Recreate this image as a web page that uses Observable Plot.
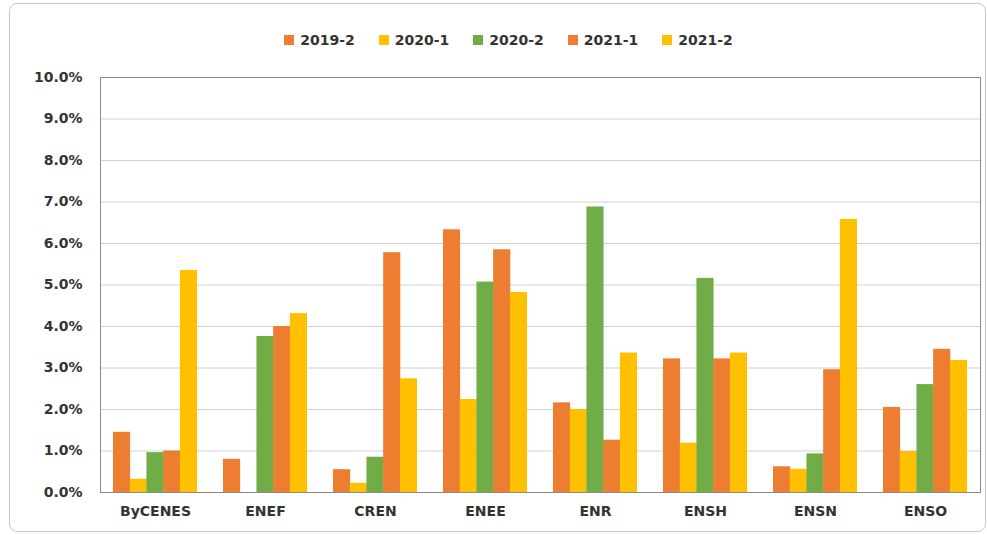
<!DOCTYPE html>
<html><head><meta charset="utf-8">
<script src="https://cdn.jsdelivr.net/npm/d3@7"></script>
<script src="https://cdn.jsdelivr.net/npm/@observablehq/plot@0.6"></script>
<style>
body{margin:0;background:#fff;font-family:"DejaVu Sans",Verdana,sans-serif;}
#wrap{position:absolute;left:9px;top:3px;width:975px;height:527px;border:1px solid #c8c8c8;border-radius:8px;}
#legend{position:absolute;left:30px;top:32px;width:957px;display:flex;justify-content:center;font-weight:bold;font-size:14px;color:#333;}
#legend span.item{display:inline-flex;align-items:center;margin:0 12px;}
#legend span.sw{display:inline-block;width:10px;height:10px;margin-right:6px;}
#chart{position:absolute;left:0;top:60px;}
</style></head>
<body>
<div id="wrap"></div>
<div id="legend"></div>
<div id="chart"></div>
<script>
const categories = ["ByCENES","ENEF","CREN","ENEE","ENR","ENSH","ENSN","ENSO"];
const seriesNames = ["2019-2","2020-1","2020-2","2021-1","2021-2"];
const seriesColors = ["#ED7D31","#FFC000","#70AD47","#ED7D31","#FFC000"];
const s2019_2 = [1.45, 0.80, 0.55, 6.33, 2.16, 3.22, 0.62, 2.05];
const s2020_1 = [0.32, 0.00, 0.22, 2.24, 2.00, 1.19, 0.56, 0.99];
const s2020_2 = [0.96, 3.76, 0.85, 5.07, 6.88, 5.16, 0.93, 2.60];
const s2021_1 = [1.00, 4.00, 5.78, 5.85, 1.26, 3.22, 2.96, 3.45];
const s2021_2 = [5.35, 4.31, 2.74, 4.82, 3.36, 3.36, 6.58, 3.18];
const yTicks = [0,1,2,3,4,5,6,7,8,9,10];

const seriesValues = [s2019_2, s2020_1, s2020_2, s2021_1, s2021_2];
const data = [];
seriesNames.forEach((s, i) => categories.forEach((c, j) => data.push({series: s, idx: i, category: c, value: seriesValues[i][j]})));

// legend
const leg = document.getElementById("legend");
seriesNames.forEach((s, i) => {
  const it = document.createElement("span"); it.className = "item";
  const sw = document.createElement("span"); sw.className = "sw"; sw.style.background = seriesColors[i];
  it.appendChild(sw); it.appendChild(document.createTextNode(s));
  leg.appendChild(it);
});

const marginLeft = 100, marginRight = 7, width = 987;
const paddingInner = 0.24, paddingOuter = 0.12;
const step = (width - marginLeft - marginRight) / (categories.length - paddingInner + 2 * paddingOuter);
const bw = step * (1 - paddingInner) / seriesNames.length;

const barMarks = seriesNames.map((s, i) => Plot.barY(data.filter(d => d.series === s), {
  x: "category", y: "value", fill: seriesColors[i],
  insetLeft: i * bw, insetRight: (seriesNames.length - 1 - i) * bw
}));

const chart = Plot.plot({
  width, height: 472,
  marginLeft, marginRight, marginTop: 17, marginBottom: 40,
  style: {fontFamily: '"DejaVu Sans", Verdana, sans-serif', fontSize: "14px", fontWeight: "bold", color: "#333", background: "transparent"},
  x: {domain: categories, paddingInner, paddingOuter, label: null, tickSize: 0, tickPadding: 14},
  y: {domain: [0, 10], ticks: yTicks, tickFormat: d => d.toFixed(1) + "%", label: null, tickSize: 0, tickPadding: 18},
  marks: [
    Plot.gridY(yTicks, {stroke: "#d0d0d0", strokeOpacity: 1}),
    ...barMarks,
    Plot.frame({stroke: "#8a8a8a"})
  ]
});
document.getElementById("chart").appendChild(chart);
</script>
</body></html>
